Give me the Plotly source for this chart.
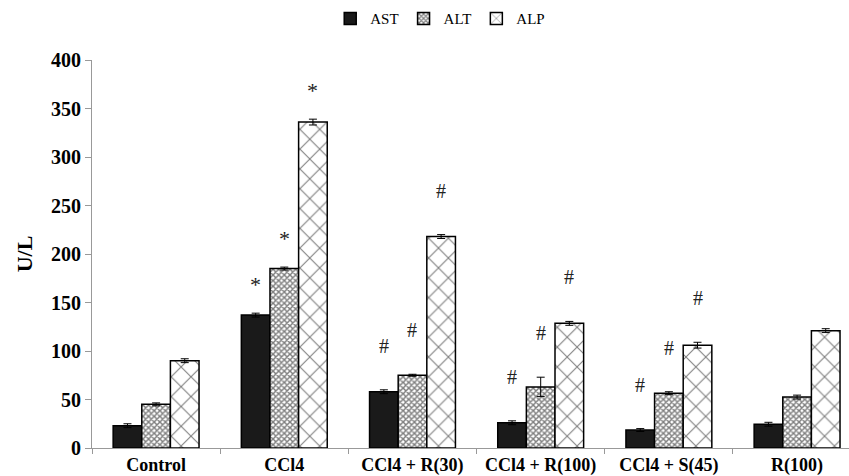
import plotly.graph_objects as go

categories = ["Control", "CCl4", "CCl4 + R(30)", "CCl4 + R(100)", "CCl4 + S(45)", "R(100)"]
ast = [23, 137, 58, 26, 18.5, 24.5]
ast_err = [2, 2, 2, 2, 1.5, 2]
alt = [45, 185, 75, 63, 56.5, 52.5]
alt_err = [1.5, 1.5, 1, 10, 1.5, 2]
alp = [90, 336, 218, 128.5, 106, 121]
alp_err = [2, 3, 2, 2, 3, 2]
ast_sig = ["", "*", "#", "#", "#", ""]
alt_sig = ["", "*", "#", "#", "#", ""]
alp_sig = ["", "*", "#", "#", "#", ""]

FONT = "Liberation Serif"

fig = go.Figure()
series = [
    ("AST", ast, ast_err, dict(color="#1a1a1a")),
    ("ALT", alt, alt_err, dict(color="white", pattern=dict(shape="x", size=4, solidity=0.6, fgcolor="black", bgcolor="white"))),
    ("ALP", alp, alp_err, dict(color="white", pattern=dict(shape="x", size=14, solidity=0.15, fgcolor="black", bgcolor="white"))),
]
for name, vals, errs, m in series:
    m = dict(m)
    m["line"] = dict(color="black", width=1.5)
    fig.add_trace(go.Bar(
        name=name, x=categories, y=vals, marker=m,
        error_y=dict(type="data", array=errs, visible=True, color="black", thickness=1, width=4),
    ))

offsets = [-1, 0, 1]
bar_w = (1 - 0.33) / 3
for k, (vals, errs, sig) in enumerate([(ast, ast_err, ast_sig), (alt, alt_err, alt_sig), (alp, alp_err, alp_sig)]):
    for i, s in enumerate(sig):
        if not s:
            continue
        fig.add_annotation(
            x=i + offsets[k] * bar_w, y=vals[i] + errs[i], xref="x", yref="y",
            text=s, showarrow=False, yanchor="bottom",
            yshift=31 if s == "#" else 14,
            font=dict(family=FONT, size=20 if s == "#" else 22, color="#222"),
        )

fig.update_layout(
    width=849, height=476,
    margin=dict(l=92, r=0, t=60, b=28),
    paper_bgcolor="white", plot_bgcolor="white",
    barmode="group", bargap=0.33, bargroupgap=0,
    font=dict(family=FONT, color="black"),
    showlegend=True,
    legend=dict(orientation="h", x=0.46, xanchor="center", y=1.149, yanchor="top",
                font=dict(family=FONT, size=15), itemwidth=30, tracegroupgap=0),
)
fig.update_xaxes(
    type="category", range=[-0.5, 5.405],
    showline=True, linecolor="#999", linewidth=1.2,
    ticks="outside", tickson="boundaries", ticklen=5, tickcolor="#999",
    tickfont=dict(family=FONT, size=18, color="black", weight="bold"),
    showgrid=False, automargin=False,
)
fig.update_yaxes(
    range=[0, 400], dtick=50,
    showline=True, linecolor="#999", linewidth=1.2,
    ticks="outside", ticklen=6, tickcolor="#999",
    tickfont=dict(family=FONT, size=20, color="black", weight="bold"),
    showgrid=False, zeroline=False, automargin=False,
    title=dict(text="U/L", font=dict(family=FONT, size=22, color="black", weight="bold"), standoff=12),
)

fig.write_html("out.html", config={"displayModeBar": False},
               post_script="document.body.style.margin='0';")
